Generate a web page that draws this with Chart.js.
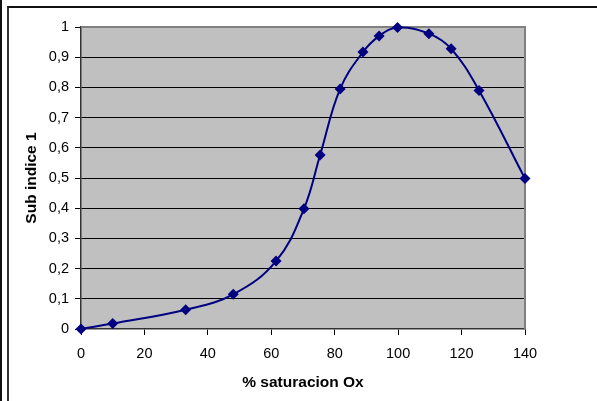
<!DOCTYPE html>
<html>
<head>
<meta charset="utf-8">
<script src="https://cdn.jsdelivr.net/npm/chart.js@4/dist/chart.umd.min.js"></script>
<style>
  html, body { margin: 0; padding: 0; background: #fff; overflow: hidden; }
  #wrap { position: relative; width: 597px; height: 401px; }
  #c { position: absolute; left: 0; top: 0; }
  #edge { position: absolute; left: 0; top: 0; width: 2px; height: 401px; background: #111; }
  #frame { position: absolute; left: 7px; top: 6px; width: 600px; height: 400px;
           border-top: 2px solid #111; border-left: 2px solid #333; }
</style>
</head>
<body>
<div id="wrap">
  <canvas id="c" width="597" height="401"></canvas>
  <div id="edge"></div>
  <div id="frame"></div>
</div>
<script>
// ---- data ----
const saturation = [0, 10, 33, 48, 61.5, 70.3, 75.4, 81.7, 88.9, 94, 99.8, 109.7, 116.7, 125.5, 140];
const subIndice  = [0, 0.018, 0.064, 0.115, 0.225, 0.398, 0.576, 0.795, 0.917, 0.97, 0.998, 0.978, 0.928, 0.79, 0.498];
const yTickLabels = ['0', '0,1', '0,2', '0,3', '0,4', '0,5', '0,6', '0,7', '0,8', '0,9', '1'];
const xTitle = '% saturacion Ox';
const yTitle = 'Sub indice 1';

const points = saturation.map((x, i) => ({ x: x, y: subIndice[i] }));

const plotBg = {
  id: 'plotBg',
  beforeDraw(chart) {
    const { ctx, chartArea: a } = chart;
    ctx.save();
    ctx.fillStyle = '#C0C0C0';
    ctx.fillRect(a.left, a.top, a.right - a.left, a.bottom - a.top);
    ctx.restore();
  },
  beforeDatasetsDraw(chart) {
    const { ctx, chartArea: a } = chart;
    ctx.save();
    ctx.strokeStyle = '#808080';
    ctx.lineWidth = 2;
    ctx.beginPath();
    ctx.moveTo(a.left, a.top);
    ctx.lineTo(a.right, a.top);
    ctx.lineTo(a.right, a.bottom);
    ctx.stroke();
    ctx.restore();
  }
};

const FONT = 'Liberation Sans, Arial, sans-serif';

new Chart(document.getElementById('c'), {
  type: 'line',
  data: {
    datasets: [{
      data: points,
      borderColor: '#000080',
      backgroundColor: '#000080',
      borderWidth: 2,
      tension: 0.4,
      pointStyle: 'rectRot',
      pointRadius: 5.5,
      pointHoverRadius: 5.5,
      pointBorderWidth: 0,
      fill: false,
      clip: false
    }]
  },
  options: {
    responsive: false,
    animation: false,
    events: [],
    layout: { padding: { left: 10, top: 27, right: 72, bottom: 0 } },
    plugins: { legend: { display: false }, tooltip: { enabled: false } },
    scales: {
      x: {
        type: 'linear',
        min: 0, max: 140,
        afterFit(scale) { scale.height = 72; },
        ticks: { stepSize: 20, color: '#000', padding: 10, maxRotation: 0,
                 font: { family: FONT, size: 14.5 } },
        grid: { drawOnChartArea: false, drawTicks: true, tickLength: 6, tickColor: '#000', tickWidth: 1 },
        border: { display: true, color: '#333', width: 1.5 },
        title: { display: true, text: xTitle, color: '#000',
                 font: { family: FONT, size: 15.5, weight: 'bold' },
                 padding: { top: 0, bottom: 9 } }
      },
      y: {
        type: 'linear',
        min: 0, max: 1,
        afterFit(scale) { scale.width = 71; },
        ticks: { stepSize: 0.1, color: '#000', padding: 6,
                 font: { family: FONT, size: 14.5 },
                 callback: (v) => yTickLabels[Math.round(v * 10)] },
        grid: {
          drawOnChartArea: true, drawTicks: true, tickLength: 6, tickWidth: 1,
          tickColor: '#000',
          lineWidth: 1,
          color: (c) => (c.tick && c.tick.value === 0) ? 'rgba(0,0,0,0)' : (c.tick && c.tick.value >= 0.999 ? '#808080' : '#000')
        },
        border: { display: true, color: '#333', width: 1.5 },
        title: { display: true, text: yTitle, color: '#000',
                 font: { family: FONT, size: 15.5, weight: 'bold' },
                 padding: { top: 12, bottom: 0 } }
      }
    }
  },
  plugins: [plotBg]
});
</script>
</body>
</html>
